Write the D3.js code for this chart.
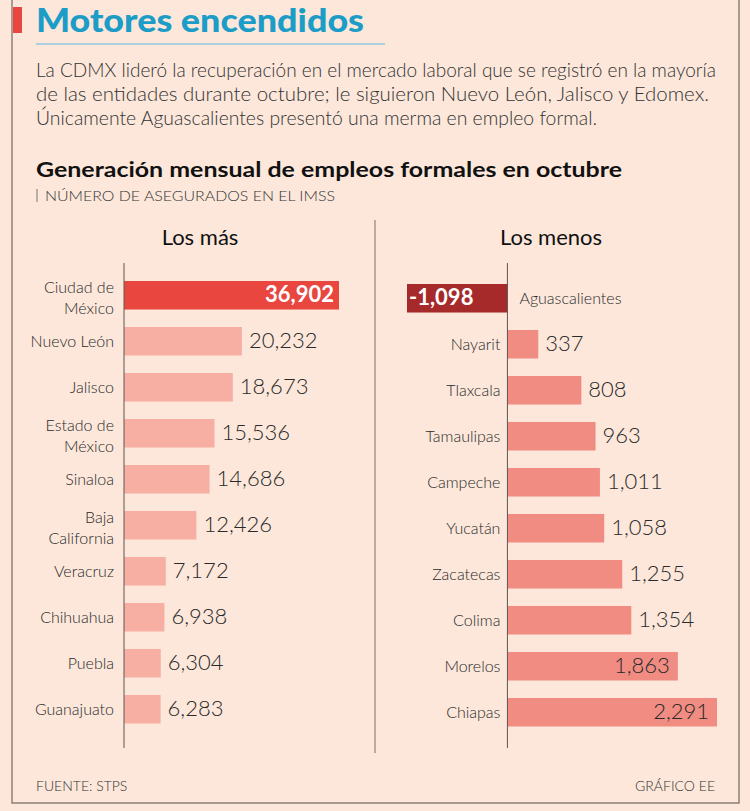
<!DOCTYPE html>
<html lang="es">
<head>
<meta charset="UTF-8" />
<title>Motores encendidos</title>
<script src="https://d3js.org/d3.v7.min.js"></script>
<style>
  body { margin: 0; background: #fce7da; }
  svg { display: block; font-family: Lato, "Noto Sans", sans-serif; }
</style>
</head>
<body>
<svg width="750" height="811"></svg>
<script>
// Los más
var masEstados = ["Ciudad de|México", "Nuevo León", "Jalisco", "Estado de|México", "Sinaloa",
                  "Baja|California", "Veracruz", "Chihuahua", "Puebla", "Guanajuato"];
var masValores = [36902, 20232, 18673, 15536, 14686, 12426, 7172, 6938, 6304, 6283];

// Los menos
var menosEstados = ["Aguascalientes", "Nayarit", "Tlaxcala", "Tamaulipas", "Campeche",
                    "Yucatán", "Zacatecas", "Colima", "Morelos", "Chiapas"];
var menosValores = [-1098, 337, 808, 963, 1011, 1058, 1255, 1354, 1863, 2291];

var parrafo = [
  "La CDMX lideró la recuperación en el mercado laboral que se registró en la mayoría",
  "de las entidades durante octubre; le siguieron Nuevo León, Jalisco y Edomex.",
  "Únicamente Aguascalientes presentó una merma en empleo formal."
];

var svg = d3.select("svg");
// guion normal para el negativo, como en el original
var fmt = d3.formatLocale({ decimal: ".", thousands: ",", grouping: [3], currency: ["$", ""], minus: "-" }).format(",");

svg.append("rect").attr("width", 750).attr("height", 811).attr("fill", "#fce7da");

// marco
svg.append("path")
  .attr("d", "M12,0V803H739V0")
  .attr("fill", "none")
  .attr("stroke", "#8c817a")
  .attr("stroke-width", 1.5);

// titulo
svg.append("rect").attr("x", 13).attr("y", 7).attr("width", 9).attr("height", 26).attr("fill", "#e8463f");
svg.append("text")
  .attr("x", 36).attr("y", 32)
  .attr("font-size", 33).attr("font-weight", 900)
  .attr("fill", "#1b9dc8")
  .attr("textLength", 328).attr("lengthAdjust", "spacingAndGlyphs")
  .text("Motores encendidos");
svg.append("line")
  .attr("x1", 36).attr("x2", 385).attr("y1", 44).attr("y2", 44)
  .attr("stroke", "#8cc9de").attr("stroke-width", 1.5);

var anchos = [680, 673, 561];
svg.selectAll("text.parrafo")
  .data(parrafo)
  .enter().append("text")
  .attr("class", "parrafo")
  .attr("x", 36)
  .attr("y", function (d, i) { return 77 + i * 24; })
  .attr("font-size", 19).attr("font-weight", 300)
  .attr("fill", "#333")
  .attr("textLength", function (d, i) { return anchos[i]; })
  .attr("lengthAdjust", "spacingAndGlyphs")
  .text(function (d) { return d; });

svg.append("text")
  .attr("x", 36).attr("y", 177)
  .attr("font-size", 21).attr("font-weight", 700)
  .attr("fill", "#111")
  .attr("textLength", 586).attr("lengthAdjust", "spacingAndGlyphs")
  .text("Generación mensual de empleos formales en octubre");
svg.append("line")
  .attr("x1", 37).attr("x2", 37).attr("y1", 189).attr("y2", 202)
  .attr("stroke", "#777").attr("stroke-width", 1);
svg.append("text")
  .attr("x", 45).attr("y", 201)
  .attr("font-size", 14).attr("font-weight", 300)
  .attr("fill", "#333")
  .attr("textLength", 290).attr("lengthAdjust", "spacingAndGlyphs")
  .text("NÚMERO DE ASEGURADOS EN EL IMSS");

// divisor
svg.append("line")
  .attr("x1", 375).attr("x2", 375).attr("y1", 220).attr("y2", 753)
  .attr("stroke", "#7a716b").attr("stroke-width", 1);

svg.append("text").attr("x", 200).attr("y", 245).attr("text-anchor", "middle")
  .attr("font-size", 22).attr("fill", "#111").text("Los más");
svg.append("text").attr("x", 551).attr("y", 245).attr("text-anchor", "middle")
  .attr("font-size", 22).attr("fill", "#111").text("Los menos");

// ---- Los más ----
var xMas = d3.scaleLinear().domain([0, 36902]).range([124, 339]);
var yMas = d3.scaleBand().domain(masEstados).range([281, 723.5]).paddingInner(0.38).paddingOuter(0);
var maxMas = d3.max(masValores);

var gMas = svg.append("g");
gMas.selectAll("rect")
  .data(masValores)
  .enter().append("rect")
  .attr("x", xMas(0))
  .attr("y", function (d, i) { return yMas(masEstados[i]); })
  .attr("width", function (d) { return xMas(d) - xMas(0); })
  .attr("height", yMas.bandwidth())
  .attr("fill", function (d) { return d === maxMas ? "#e8463f" : "#f7aea3"; });

gMas.selectAll("text.valor")
  .data(masValores)
  .enter().append("text")
  .attr("class", "valor")
  .attr("x", function (d) { return d === maxMas ? xMas(d) - 5 : xMas(d) + 7; })
  .attr("y", function (d, i) { return yMas(masEstados[i]) + yMas.bandwidth() / 2 + 7; })
  .attr("text-anchor", function (d) { return d === maxMas ? "end" : "start"; })
  .attr("font-size", 22)
  .attr("font-weight", function (d) { return d === maxMas ? 700 : 300; })
  .attr("fill", function (d) { return d === maxMas ? "#fff" : "#2a2a2a"; })
  .text(function (d) { return fmt(d); });

etiquetas(gMas, masEstados, yMas, 114);

gMas.append("line")
  .attr("x1", xMas(0)).attr("x2", xMas(0)).attr("y1", 263).attr("y2", 748)
  .attr("stroke", "#5e5650").attr("stroke-width", 1);

// ---- Los menos ----
var xMenos = d3.scaleLinear().domain([-1098, 2291]).range([407, 717]);
var yMenos = d3.scaleBand().domain(menosEstados).range([284, 726.5]).paddingInner(0.38).paddingOuter(0);
var top2 = menosValores.slice().sort(d3.descending).slice(0, 2);

var gMenos = svg.append("g");
gMenos.selectAll("rect")
  .data(menosValores)
  .enter().append("rect")
  .attr("x", function (d) { return xMenos(Math.min(0, d)); })
  .attr("y", function (d, i) { return yMenos(menosEstados[i]); })
  .attr("width", function (d) { return Math.abs(xMenos(d) - xMenos(0)); })
  .attr("height", yMenos.bandwidth())
  .attr("fill", function (d) { return d < 0 ? "#a62a2a" : "#f08c82"; });

gMenos.selectAll("text.valor")
  .data(menosValores)
  .enter().append("text")
  .attr("class", "valor")
  .attr("x", function (d) {
    if (d < 0) return xMenos(d) + 2;
    return top2.indexOf(d) >= 0 ? xMenos(d) - 8 : xMenos(d) + 7;
  })
  .attr("y", function (d, i) { return yMenos(menosEstados[i]) + yMenos.bandwidth() / 2 + 7; })
  .attr("text-anchor", function (d) { return (d >= 0 && top2.indexOf(d) >= 0) ? "end" : "start"; })
  .attr("font-size", 22)
  .attr("font-weight", function (d) { return d < 0 ? 700 : 300; })
  .attr("fill", function (d) { return d < 0 ? "#fff" : "#2a2a2a"; })
  .text(function (d) { return fmt(d); });

// etiquetas de los menos: la negativa va a la derecha del eje
gMenos.selectAll("text.estado")
  .data(menosEstados)
  .enter().append("text")
  .attr("class", "estado")
  .attr("x", function (d, i) { return menosValores[i] < 0 ? xMenos(0) + 12 : xMenos(0) - 7; })
  .attr("y", function (d) { return yMenos(d) + yMenos.bandwidth() / 2 + 6; })
  .attr("text-anchor", function (d, i) { return menosValores[i] < 0 ? "start" : "end"; })
  .attr("font-size", 16).attr("font-weight", 300)
  .attr("fill", "#2a2a2a")
  .text(function (d) { return d; });

gMenos.append("line")
  .attr("x1", xMenos(0)).attr("x2", xMenos(0)).attr("y1", 263).attr("y2", 748)
  .attr("stroke", "#5e5650").attr("stroke-width", 1);

function etiquetas(g, nombres, y, xpos) {
  var t = g.selectAll("text.estado")
    .data(nombres)
    .enter().append("text")
    .attr("class", "estado")
    .attr("text-anchor", "end")
    .attr("font-size", 16).attr("font-weight", 300)
    .attr("fill", "#2a2a2a");
  t.each(function (d) {
    var partes = d.split("|");
    var c = y(d) + y.bandwidth() / 2;
    var base = partes.length > 1 ? c - 2 : c + 6;
    d3.select(this).selectAll("tspan")
      .data(partes)
      .enter().append("tspan")
      .attr("x", xpos)
      .attr("y", function (p, j) { return base + j * 21; })
      .text(function (p) { return p; });
  });
}

// pie
svg.append("text").attr("x", 36).attr("y", 791)
  .attr("font-size", 14).attr("font-weight", 300).attr("fill", "#333")
  .text("FUENTE: STPS");
svg.append("text").attr("x", 715).attr("y", 791).attr("text-anchor", "end")
  .attr("font-size", 14).attr("font-weight", 300).attr("fill", "#333")
  .text("GRÁFICO EE");
</script>
</body>
</html>
